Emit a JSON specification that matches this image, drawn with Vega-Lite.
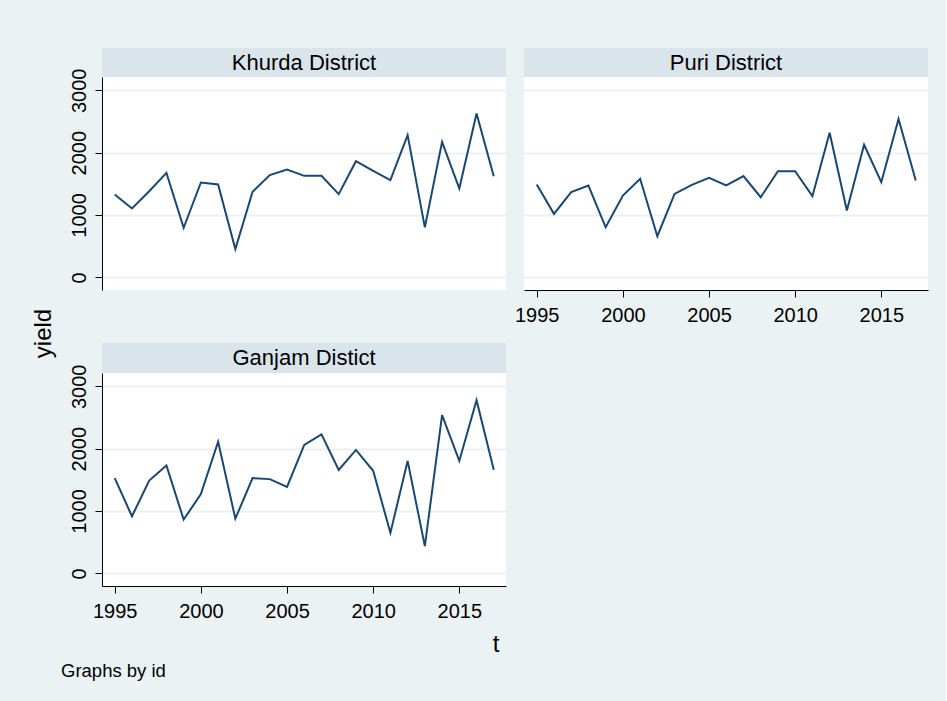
{
  "$schema": "https://vega.github.io/schema/vega-lite/v6.json",
  "background": "#eaf2f3",
  "padding": {"left": 31, "top": 48, "right": 18, "bottom": 26},
  "config": {
    "view": {"stroke": null},
    "font": "Liberation Sans",
    "text": {"font": "Liberation Sans"}
  },
  "datasets": {
    "yields": [
      {"id":"Khurda District","t":1995,"yield":1329},{"id":"Khurda District","t":1996,"yield":1105},{"id":"Khurda District","t":1997,"yield":1380},{"id":"Khurda District","t":1998,"yield":1676},{"id":"Khurda District","t":1999,"yield":795},{"id":"Khurda District","t":2000,"yield":1521},{"id":"Khurda District","t":2001,"yield":1490},{"id":"Khurda District","t":2002,"yield":454},{"id":"Khurda District","t":2003,"yield":1372},{"id":"Khurda District","t":2004,"yield":1639},{"id":"Khurda District","t":2005,"yield":1730},{"id":"Khurda District","t":2006,"yield":1628},{"id":"Khurda District","t":2007,"yield":1628},{"id":"Khurda District","t":2008,"yield":1335},{"id":"Khurda District","t":2009,"yield":1863},{"id":"Khurda District","t":2010,"yield":1708},{"id":"Khurda District","t":2011,"yield":1559},{"id":"Khurda District","t":2012,"yield":2280},{"id":"Khurda District","t":2013,"yield":801},{"id":"Khurda District","t":2014,"yield":2173},{"id":"Khurda District","t":2015,"yield":1425},{"id":"Khurda District","t":2016,"yield":2627},{"id":"Khurda District","t":2017,"yield":1623},
      {"id":"Puri District","t":1995,"yield":1489},{"id":"Puri District","t":1996,"yield":1018},{"id":"Puri District","t":1997,"yield":1366},{"id":"Puri District","t":1998,"yield":1473},{"id":"Puri District","t":1999,"yield":803},{"id":"Puri District","t":2000,"yield":1312},{"id":"Puri District","t":2001,"yield":1580},{"id":"Puri District","t":2002,"yield":659},{"id":"Puri District","t":2003,"yield":1339},{"id":"Puri District","t":2004,"yield":1484},{"id":"Puri District","t":2005,"yield":1596},{"id":"Puri District","t":2006,"yield":1473},{"id":"Puri District","t":2007,"yield":1623},{"id":"Puri District","t":2008,"yield":1285},{"id":"Puri District","t":2009,"yield":1703},{"id":"Puri District","t":2010,"yield":1703},{"id":"Puri District","t":2011,"yield":1302},{"id":"Puri District","t":2012,"yield":2319},{"id":"Puri District","t":2013,"yield":1071},{"id":"Puri District","t":2014,"yield":2126},{"id":"Puri District","t":2015,"yield":1526},{"id":"Puri District","t":2016,"yield":2539},{"id":"Puri District","t":2017,"yield":1553},
      {"id":"Ganjam Distict","t":1995,"yield":1527},{"id":"Ganjam Distict","t":1996,"yield":915},{"id":"Ganjam Distict","t":1997,"yield":1489},{"id":"Ganjam Distict","t":1998,"yield":1729},{"id":"Ganjam Distict","t":1999,"yield":862},{"id":"Ganjam Distict","t":2000,"yield":1271},{"id":"Ganjam Distict","t":2001,"yield":2112},{"id":"Ganjam Distict","t":2002,"yield":878},{"id":"Ganjam Distict","t":2003,"yield":1527},{"id":"Ganjam Distict","t":2004,"yield":1511},{"id":"Ganjam Distict","t":2005,"yield":1388},{"id":"Ganjam Distict","t":2006,"yield":2059},{"id":"Ganjam Distict","t":2007,"yield":2229},{"id":"Ganjam Distict","t":2008,"yield":1660},{"id":"Ganjam Distict","t":2009,"yield":1979},{"id":"Ganjam Distict","t":2010,"yield":1644},{"id":"Ganjam Distict","t":2011,"yield":649},{"id":"Ganjam Distict","t":2012,"yield":1803},{"id":"Ganjam Distict","t":2013,"yield":436},{"id":"Ganjam Distict","t":2014,"yield":2537},{"id":"Ganjam Distict","t":2015,"yield":1803},{"id":"Ganjam Distict","t":2016,"yield":2777},{"id":"Ganjam Distict","t":2017,"yield":1660}
    ],
    "panels": [{"id":"Khurda District"},{"id":"Puri District"},{"id":"Ganjam Distict"}],
    "blank": [{"k":1}]
  },
  "title": {"text": "Graphs by id", "orient": "bottom", "anchor": "start", "fontSize": 18.5, "fontWeight": "normal", "font": "Liberation Sans", "color": "#000", "offset": 6, "dx": 30},
  "columns": 2,
  "bounds": "flush",
  "align": "each",
  "spacing": {"row": 0, "column": 18},
  "concat": [
    {
      "width": 404, "height": 29,
      "data": {"name": "panels"},
      "transform": [{"filter": "datum.id === 'Khurda District'"}],
      "view": {"fill": "#d9e5eb"},
      "mark": {"type": "text", "fontSize": 22, "color": "#000", "baseline": "middle"},
      "encoding": {"text": {"field": "id"}}
    },
    {
      "width": 404, "height": 29,
      "data": {"name": "panels"},
      "transform": [{"filter": "datum.id === 'Puri District'"}],
      "view": {"fill": "#d9e5eb"},
      "mark": {"type": "text", "fontSize": 22, "color": "#000", "baseline": "middle"},
      "encoding": {"text": {"field": "id"}}
    },
    {
      "width": 404, "height": 213,
      "data": {"name": "yields"},
      "transform": [{"filter": "datum.id === 'Khurda District'"}],
      "view": {"fill": "white"},
      "mark": {"type": "line", "color": "#1a476f", "strokeWidth": 2},
      "encoding": {
        "x": {"field": "t", "type": "quantitative", "scale": {"domain": [1994.26, 2017.71], "nice": false, "zero": false}, "axis": null},
        "y": {"field": "yield", "type": "quantitative", "scale": {"domain": [-203, 3213], "nice": false, "zero": false},
          "axis": {"values": [0, 1000, 2000, 3000], "format": "d", "title": null, "grid": true, "gridColor": "#eaf2f3", "gridWidth": 2, "labelAngle": -90, "labelAlign": "center", "labelBaseline": "alphabetic", "labelFontSize": 20, "labelFont": "Liberation Sans", "labelColor": "#000", "labelPadding": 10, "labelFlush": false, "labelOverlap": false, "tickSize": 7, "tickColor": "#000", "domainColor": "#000"}}
      }
    },
    {
      "width": 404, "height": 213,
      "data": {"name": "yields"},
      "transform": [{"filter": "datum.id === 'Puri District'"}],
      "view": {"fill": "white"},
      "mark": {"type": "line", "color": "#1a476f", "strokeWidth": 2},
      "encoding": {
        "x": {"field": "t", "type": "quantitative", "scale": {"domain": [1994.26, 2017.71], "nice": false, "zero": false},
          "axis": {"values": [1995, 2000, 2005, 2010, 2015], "format": "d", "title": null, "grid": false, "labelFontSize": 20, "labelFont": "Liberation Sans", "labelColor": "#000", "labelPadding": 8, "labelFlush": false, "labelOverlap": false, "tickSize": 7, "tickColor": "#000", "domainColor": "#000"}},
        "y": {"field": "yield", "type": "quantitative", "scale": {"domain": [-203, 3213], "nice": false, "zero": false},
          "axis": {"values": [0, 1000, 2000, 3000], "title": null, "grid": true, "gridColor": "#eaf2f3", "gridWidth": 2, "labels": false, "ticks": false, "domain": false}}
      }
    },
    {
      "width": 404, "height": 53,
      "data": {"name": "blank"},
      "mark": {"type": "text", "text": ""}
    },
    {
      "width": 404, "height": 53,
      "data": {"name": "blank"},
      "mark": {"type": "text", "text": ""}
    },
    {
      "width": 404, "height": 30,
      "data": {"name": "panels"},
      "transform": [{"filter": "datum.id === 'Ganjam Distict'"}],
      "view": {"fill": "#d9e5eb"},
      "mark": {"type": "text", "fontSize": 22, "color": "#000", "baseline": "middle"},
      "encoding": {"text": {"field": "id"}}
    },
    {
      "width": 404, "height": 30,
      "data": {"name": "blank"},
      "mark": {"type": "text", "text": ""}
    },
    {
      "width": 404, "height": 213,
      "data": {"name": "yields"},
      "transform": [{"filter": "datum.id === 'Ganjam Distict'"}],
      "view": {"fill": "white"},
      "mark": {"type": "line", "color": "#1a476f", "strokeWidth": 2},
      "encoding": {
        "x": {"field": "t", "type": "quantitative", "scale": {"domain": [1994.26, 2017.71], "nice": false, "zero": false},
          "axis": {"values": [1995, 2000, 2005, 2010, 2015], "format": "d", "title": "t", "titleX": 397, "titleY": 65, "titleAlign": "right", "titleBaseline": "alphabetic", "titleFontSize": 24, "titleFontWeight": "normal", "titleFont": "Liberation Sans", "titleColor": "#000", "grid": false, "labelFontSize": 20, "labelFont": "Liberation Sans", "labelColor": "#000", "labelPadding": 8, "labelFlush": false, "labelOverlap": false, "tickSize": 7, "tickColor": "#000", "domainColor": "#000"}},
        "y": {"field": "yield", "type": "quantitative", "scale": {"domain": [-203, 3213], "nice": false, "zero": false},
          "axis": {"values": [0, 1000, 2000, 3000], "format": "d", "title": "yield", "titleX": -52, "titleY": -40, "titleAngle": -90, "titleAlign": "center", "titleBaseline": "alphabetic", "titleFontSize": 24, "titleFontWeight": "normal", "titleFont": "Liberation Sans", "titleColor": "#000", "grid": true, "gridColor": "#eaf2f3", "gridWidth": 2, "labelAngle": -90, "labelAlign": "center", "labelBaseline": "alphabetic", "labelFontSize": 20, "labelFont": "Liberation Sans", "labelColor": "#000", "labelPadding": 10, "labelFlush": false, "labelOverlap": false, "tickSize": 7, "tickColor": "#000", "domainColor": "#000"}}
      }
    }
  ]
}
